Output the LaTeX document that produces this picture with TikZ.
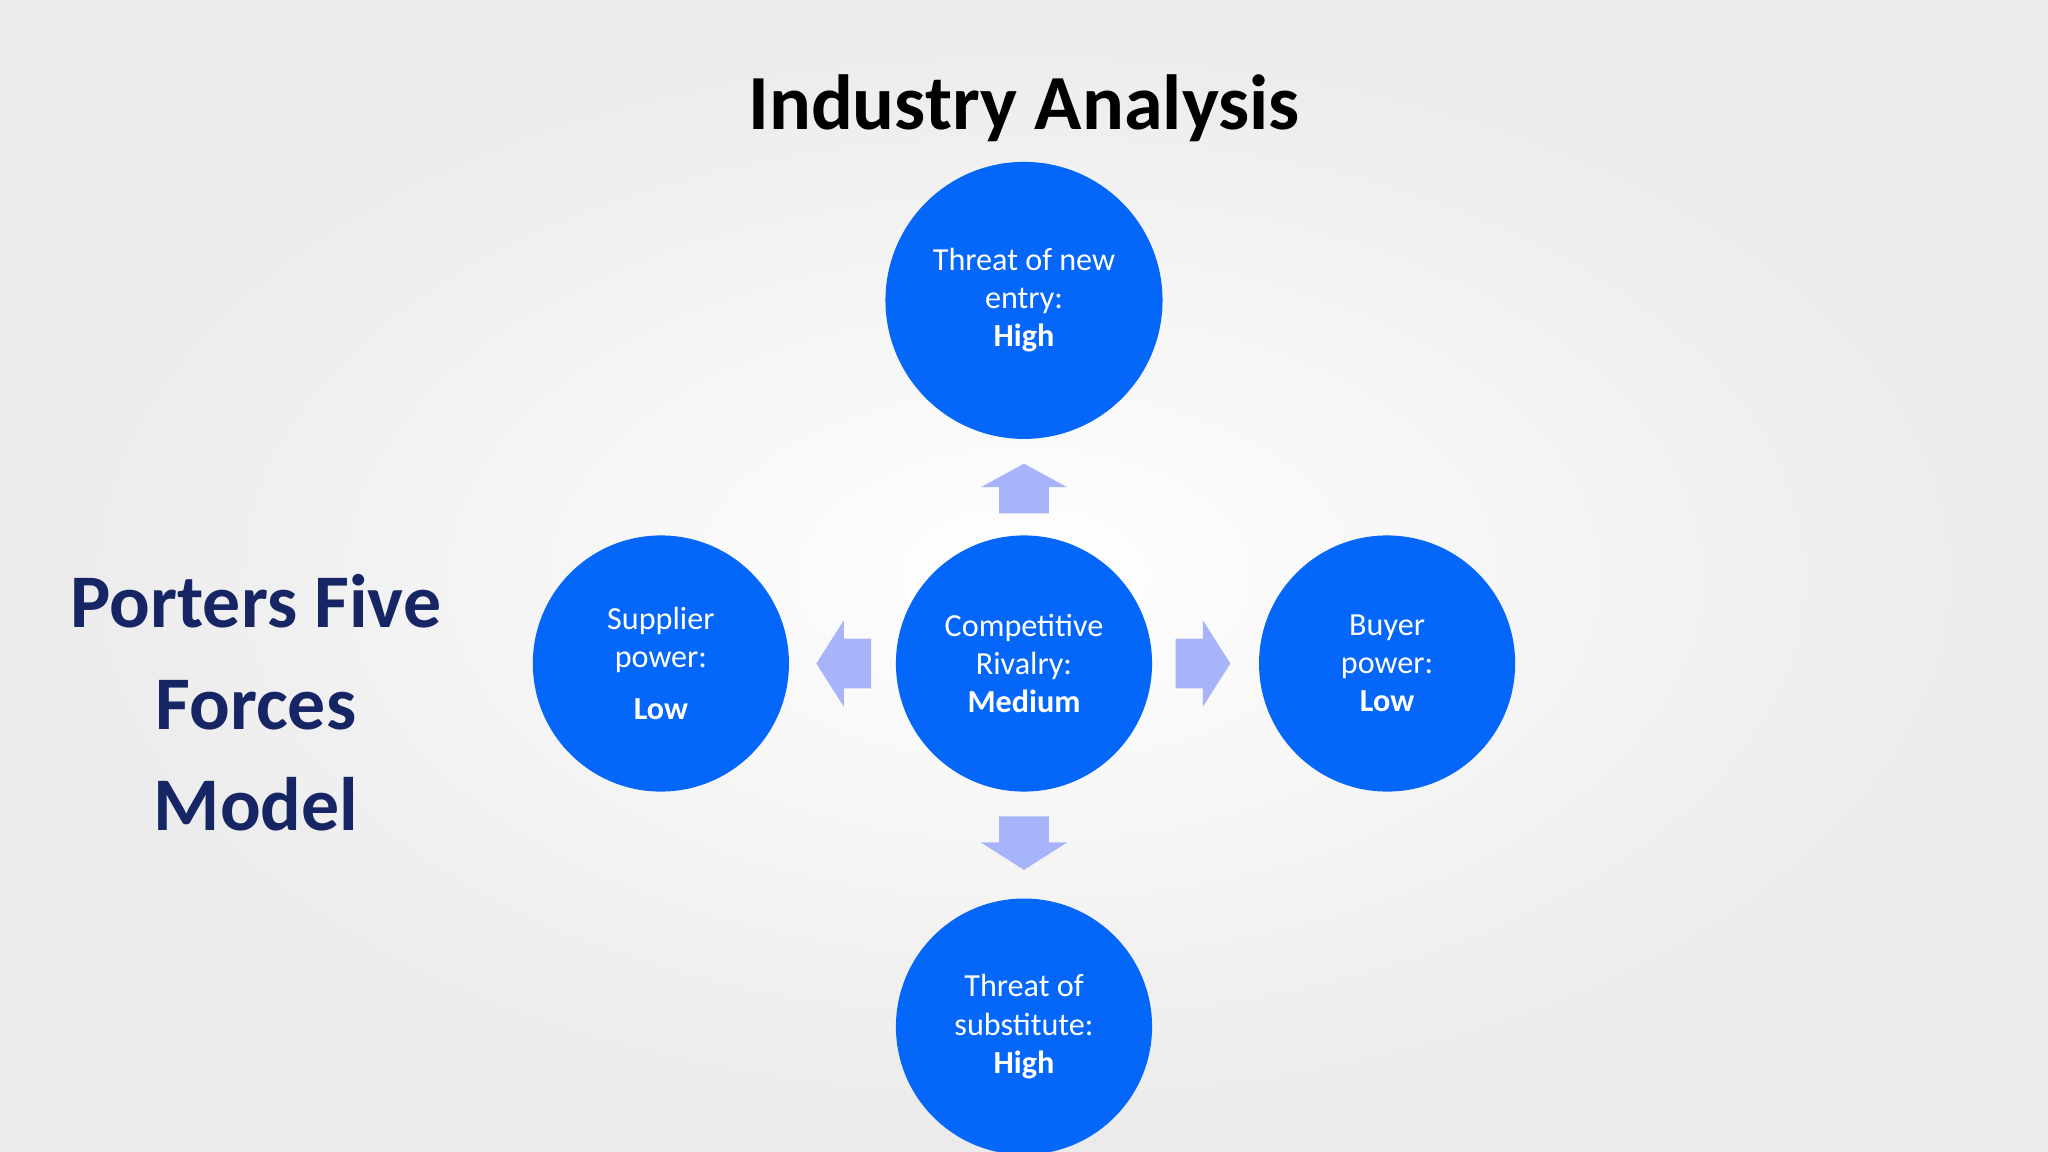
\documentclass[tikz,border=0pt]{standalone}
\usepackage{fontspec}
\setmainfont{Carlito}
\begin{document}
\begin{tikzpicture}[x=0.01cm,y=-0.01cm,
  force/.style={circle,fill=fblue,text=white,align=center,font=\fontsize{7}{8.3}\selectfont,inner sep=0pt},
  barrow/.style={fill=arr}]
\definecolor{fblue}{RGB}{5,102,250}
\definecolor{arr}{RGB}{168,180,250}
\definecolor{navy}{RGB}{22,38,100}
\shade[inner color=white,outer color=gray!16] (0,0) rectangle (1568,882);
\useasboundingbox (0,0) rectangle (1568,882);
\node[font=\bfseries\fontsize{17}{20}\selectfont] (title) at (784,83) {Industry Analysis};
\node[font=\bfseries\fontsize{16.5}{22.2}\selectfont,text=navy,align=center] (model) at (196,538) {Porters Five\\Forces\\Model};
\node[force,minimum size=212\pgflinewidth*0+2.12cm] (top) at (784,230) {Threat of new\\entry:\\\textbf{High}};
\node[force,minimum size=1.96cm] (mid) at (784,508) {Competitive\\Rivalry:\\\textbf{Medium}};
\node[force,minimum size=1.96cm] (left) at (506,508) {Supplier\\power:\\[3pt]\textbf{Low}};
\node[force,minimum size=1.96cm] (right) at (1062,508) {Buyer\\power:\\\textbf{Low}};
\node[force,minimum size=1.96cm] (bot) at (784,786) {Threat of\\substitute:\\\textbf{High}};
% block arrows
\fill[barrow] (765,393) -- (765,373) -- (751,373) -- (784,355) -- (817,373) -- (803,373) -- (803,393) -- cycle;
\fill[barrow] (765,625) -- (765,645) -- (751,645) -- (784,666) -- (817,645) -- (803,645) -- (803,625) -- cycle;
\fill[barrow] (667,489) -- (646,489) -- (646,475) -- (625,508) -- (646,541) -- (646,527) -- (667,527) -- cycle;
\fill[barrow] (900,489) -- (921,489) -- (921,475) -- (942,508) -- (921,541) -- (921,527) -- (900,527) -- cycle;
\end{tikzpicture}
\end{document}
